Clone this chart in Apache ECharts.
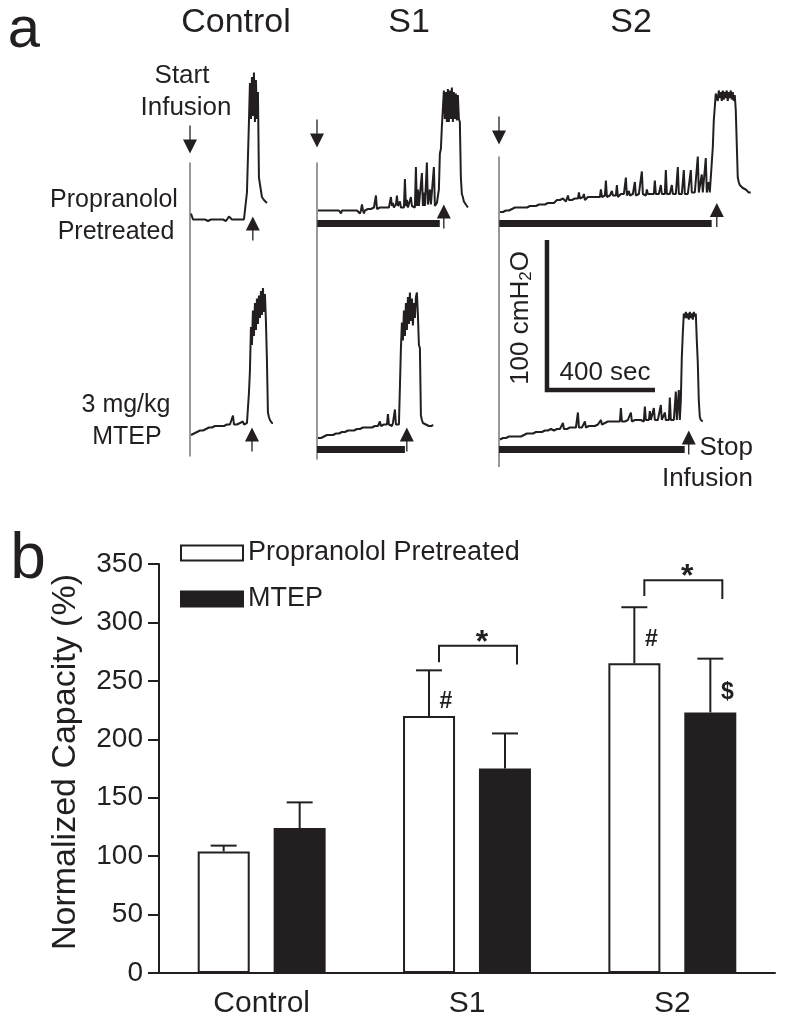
<!DOCTYPE html>
<html><head><meta charset="utf-8">
<script src="https://cdn.jsdelivr.net/npm/echarts@6/dist/echarts.min.js"></script>
<style>html,body{margin:0;padding:0;background:#fff}#c{width:785px;height:1027px}</style>
</head><body><div id="c"></div>
<script>
// ================= Panel b data =================
const categories = ['Control', 'S1', 'S2'];
const propranololMean = [104, 220, 265];
const propranololErr = [109, 259, 313];
const mtepMean = [124, 175, 223];
const mtepErr = [146, 205, 269];
const yMin = 0, yMax = 350, yInterval = 50;
// [category, group(0=propranolol,1=MTEP), value, symbol]
const markSymbols = [[1, 0, 232, '#'], [2, 0, 285, '#'], [2, 1, 240, '$']];
// [category, bracket level, left tick end, right tick end]
const sigBrackets = [[1, 280, 266, 264], [2, 336, 322.7, 320]];

// ================= Panel a data (pressure, cmH2O; one sample per 3.7 s) =================
const traceControlPro = [9,8,5,5,5,5,4,5,5,5, 5,5,5,5,5,5,5,4,5,5, 5,5,5,5,5,5,5,5,5,5, 5,5,5,5,5,4,5,5,7,8, 6,5,5,5,5,5,5,5,5,5, 5,5,5,5,5,6,23,24,70,96, 72,100,74,103,70,98,72,90,33,33, 32,20,19,18,18,17,16];
const traceS1Pro = [11,11,10,11,11,10,11,11,10,11, 11,10,11,11,10,11,11,10,11,11, 10,11,10,9,11,10,11,11,10,11, 11,10,11,11,10,11,11,10,11,11, 11,10,9,11,15,11,9,11,12,12, 12,12,12,12,12,12,13,13,21,12, 12,12,13,12,13,13,12,13,13,13, 13,13,14,20,14,16,13,14,15,21, 14,13,17,13,14,14,13,32,14,18, 13,14,14,20,14,13,14,13,40,14, 25,14,14,15,36,14,23,14,15,43, 15,14,25,15,15,16,40,14,15,16, 15,25,49,52,67,68,91,72,90,70, 92,70,91,72,93,70,90,72,89,71, 88,72,70,33,22,20,17,16,15,14, 13];
const traceS2Pro = [10,10,10,10,11,10,11,11,11,11, 12,12,12,12,13,13,13,13,13,13, 13,13,13,13,13,13,13,13,13,13, 14,14,14,14,14,15,14,15,15,15, 16,16,15,16,16,15,16,16,16,16, 17,16,17,17,16,17,17,18,17,17, 18,18,17,19,18,18,17,18,21,18, 19,18,18,19,18,19,19,20,19,23, 19,18,19,20,22,18,19,19,20,21, 19,20,20,19,20,21,19,20,20,19, 20,25,20,20,21,21,31,20,20,20, 21,20,24,21,20,20,21,28,20,21, 21,22,21,21,22,21,33,21,22,24, 21,22,21,22,22,30,21,22,22,22, 21,22,37,22,22,22,21,25,22,22, 23,22,22,21,22,31,22,22,22,22, 23,28,22,22,22,22,38,22,22,22, 22,23,28,22,22,23,22,22,40,22, 22,23,22,23,38,22,23,23,22,23, 22,38,23,23,22,23,23,22,47,23, 23,22,35,23,23,23,46,23,23,30, 23,23,24,53,71,72,89,90,84,91, 86,90,84,91,85,90,86,91,84,90, 86,91,85,90,84,88,78,78,33,30, 28,27,27,26,26,25,25,24,24,23, 23,23];
const traceControlMtep = [12,12,13,13,13,14,14,14,14,15, 15,15,15,16,16,16,16,16,17,17, 17,17,17,17,18,18,17,18,18,18, 18,18,19,18,19,19,19,19,19,19, 19,19,25,19,20,19,19,20,20,20, 21,20,21,19,18,18,20,21,40,55, 84,72,95,78,100,82,103,86,105,90, 108,92,110,94,106,88,62,27,24,22, 21,20,20];
const traceS1Mtep = [10,9,10,10,11,11,11,11,12,12, 12,12,12,12,13,12,13,13,13,13, 13,13,14,13,14,14,14,14,14,15, 15,14,15,15,16,15,15,16,15,16, 16,16,16,17,16,17,16,17,17,17, 18,17,18,17,17,18,18,18,19,18, 18,18,21,18,18,19,19,18,19,19, 26,19,18,19,18,20,19,29,19,18, 18,19,44,70,87,75,95,78,100,82, 104,86,107,88,103,85,100,90,104,107, 92,72,70,25,22,20,19,19,19,19, 19,18,19,19,18,19];
const traceS2Mtep = [9,9,9,10,9,10,10,10,10,11, 10,11,11,10,11,11,11,11,11,11, 11,11,12,12,12,13,12,13,13,13, 13,13,14,13,14,14,14,14,14,14, 14,15,14,15,15,15,15,15,15,15, 15,16,15,15,15,16,16,16,16,16, 16,16,16,20,16,17,16,16,17,17, 17,16,17,17,17,17,17,17,27,17, 17,17,17,17,17,21,17,17,18,18, 18,18,18,19,18,18,18,19,19,19, 19,22,19,20,20,20,20,20,21,20, 20,21,20,21,21,21,20,21,21,21, 21,30,21,21,21,21,22,21,22,21, 21,27,21,21,21,22,21,21,22,22, 21,22,21,22,21,31,22,22,21,22, 28,22,22,22,30,22,22,22,22,22, 22,32,22,22,22,27,22,22,22,22, 37,22,22,22,22,22,41,22,22,42, 22,35,64,80,93,90,94,90,93,89, 94,90,93,89,94,91,93,75,60,35, 24,22,21,21];
const traces = [traceControlPro, traceS1Pro, traceS2Pro, traceControlMtep, traceS1Mtep, traceS2Mtep];
const sampleSeconds = 3.7;
const infusionStop = [null, 451, 784, null, 322, 684];   // s
const stopArrowTime = [229, 466, 803, 226, 329, 699];   // s
const stopArrowTip = [7, 15, 16, 17, 17, 15];           // cmH2O
const scaleBar = {t: 174, p: 42, sec: 400, cm: 100};

// ================= layout / style =================
const FONT = "'Liberation Sans', Arial, sans-serif";
const INK = '#231f20';
const PX_PER_SEC = 0.27, PX_PER_CM = 1.5, P_MIN = -40, P_MAX = 115;
const colLeft = [191, 318, 500];
const colXMax = [320, 600, 1000];
const rowZero = [227, 453];
const colLineTop = [43, 43, 47];      // top-row pressure units
const colLineBottom = [-153, -155, -160];
const downArrowTip = [49, 53, 55];

const chart = echarts.init(document.getElementById('c'), null, {renderer: 'canvas'});

const grids = [{left: 159, top: 564, width: 616, height: 409}];
const xAxes = [{
  type: 'category', gridIndex: 0, data: categories,
  axisLine: {lineStyle: {color: INK, width: 2}},
  axisTick: {alignWithLabel: true, length: 12, lineStyle: {color: INK, width: 2}},
  axisLabel: {fontFamily: FONT, fontSize: 30, color: INK, margin: 16}
}];
const yAxes = [{
  type: 'value', gridIndex: 0, min: yMin, max: yMax, interval: yInterval,
  axisLine: {show: true, lineStyle: {color: INK, width: 2}},
  axisTick: {show: true, length: 11, lineStyle: {color: INK, width: 2}},
  axisLabel: {fontFamily: FONT, fontSize: 28, color: INK, margin: 16},
  splitLine: {show: false}
}];
const series = [
  {name: 'Propranolol Pretreated', type: 'bar', xAxisIndex: 0, yAxisIndex: 0, data: propranololMean,
   barWidth: 52, barGap: '46%', itemStyle: {color: '#fff', borderColor: INK, borderWidth: 2}},
  {name: 'MTEP', type: 'bar', xAxisIndex: 0, yAxisIndex: 0, data: mtepMean,
   barWidth: 52, barGap: '46%', itemStyle: {color: INK, borderColor: INK, borderWidth: 2}},
];
const BAR_OFF = 38;
const errData = [];
categories.forEach((c, i) => { errData.push([i, propranololMean[i], propranololErr[i], 0]); errData.push([i, mtepMean[i], mtepErr[i], 1]); });
series.push({
  type: 'custom', xAxisIndex: 0, yAxisIndex: 0, silent: true, z: 5, data: errData,
  renderItem: (params, api) => {
    const b = api.coord([api.value(0), api.value(1)]);
    const t = api.coord([api.value(0), api.value(2)]);
    const x = b[0] + (api.value(3) === 0 ? -BAR_OFF : BAR_OFF);
    return {type: 'group', children: [
      {type: 'line', shape: {x1: x, y1: b[1], x2: x, y2: t[1]}, style: {stroke: INK, lineWidth: 2}},
      {type: 'line', shape: {x1: x - 13, y1: t[1], x2: x + 13, y2: t[1]}, style: {stroke: INK, lineWidth: 2}}
    ]};
  }
});
series.push({
  type: 'custom', xAxisIndex: 0, yAxisIndex: 0, silent: true, z: 6, data: markSymbols,
  renderItem: (params, api) => {
    const p = api.coord([api.value(0), api.value(2)]);
    const x = p[0] + (api.value(1) === 0 ? -BAR_OFF : BAR_OFF) + 17;
    return {type: 'text', x: x, y: p[1], style: {text: markSymbols[params.dataIndex][3], font: 'bold 23px ' + FONT, fill: INK, align: 'center', verticalAlign: 'middle', textAlign: 'center', textVerticalAlign: 'middle'}};
  }
});
series.push({
  type: 'custom', xAxisIndex: 0, yAxisIndex: 0, silent: true, z: 6, data: sigBrackets,
  renderItem: (params, api) => {
    const c = api.coord([api.value(0), api.value(1)]);
    const l = api.coord([api.value(0), api.value(2)]);
    const r = api.coord([api.value(0), api.value(3)]);
    const xl = c[0] - BAR_OFF + 10, xr = c[0] + BAR_OFF + 12;
    return {type: 'group', children: [
      {type: 'polyline', shape: {points: [[xl, l[1]], [xl, c[1]], [xr, c[1]], [xr, r[1]]]}, style: {stroke: INK, lineWidth: 2, fill: null}},
      {type: 'text', x: (xl + xr) / 2 + 4, y: c[1] - 3, style: {text: '*', font: 'bold 32px ' + FONT, fill: INK, align: 'center', verticalAlign: 'middle', textAlign: 'center', textVerticalAlign: 'middle'}}
    ]};
  }
});

// ---- traces ----
function arrowUp(x, yTip, len) {
  return [
    {type: 'line', shape: {x1: x, y1: yTip + 8, x2: x, y2: yTip + len}, style: {stroke: INK, lineWidth: 1.3}},
    {type: 'polygon', shape: {points: [[x, yTip], [x - 7, yTip + 14], [x + 7, yTip + 14]]}, style: {fill: INK}}
  ];
}
function arrowDown(x, yTip, len) {
  return [
    {type: 'line', shape: {x1: x, y1: yTip - len, x2: x, y2: yTip - 8}, style: {stroke: INK, lineWidth: 1.3}},
    {type: 'polygon', shape: {points: [[x, yTip], [x - 7, yTip - 14], [x + 7, yTip - 14]]}, style: {fill: INK}}
  ];
}
traces.forEach((tr, i) => {
  const col = i % 3, row = Math.floor(i / 3);
  const gi = i + 1;
  grids.push({left: colLeft[col], top: rowZero[row] - P_MAX * PX_PER_CM,
              width: colXMax[col] * PX_PER_SEC, height: (P_MAX - P_MIN) * PX_PER_CM});
  xAxes.push({type: 'value', gridIndex: gi, min: 0, max: colXMax[col], show: false});
  yAxes.push({type: 'value', gridIndex: gi, min: P_MIN, max: P_MAX, show: false});
  series.push({type: 'line', xAxisIndex: gi, yAxisIndex: gi, clip: false, silent: true,
    showSymbol: false, symbol: 'none', animation: false,
    lineStyle: {color: INK, width: 2}, data: tr.map((p, k) => [k * sampleSeconds, p])});
  series.push({type: 'custom', xAxisIndex: gi, yAxisIndex: gi, silent: true, clip: false, data: [[0, 0]],
    renderItem: (params, api) => {
      const ch = [];
      const o = api.coord([0, 0]);
      if (infusionStop[i] != null) {
        const e = api.coord([infusionStop[i], 0]);
        ch.push({type: 'rect', shape: {x: o[0] - 1, y: o[1] - 7, width: e[0] - o[0] + 1, height: 7}, style: {fill: INK}});
      }
      const a = api.coord([stopArrowTime[i], stopArrowTip[i]]);
      ch.push(...arrowUp(a[0], a[1], 24));
      if (row === 0) {
        const t = api.coord([0, colLineTop[col]]), b = api.coord([0, colLineBottom[col]]);
        ch.push({type: 'line', shape: {x1: t[0] - 1, y1: t[1], x2: t[0] - 1, y2: b[1]}, style: {stroke: '#555', lineWidth: 1.2}});
        const d = api.coord([0, downArrowTip[col]]);
        ch.push(...arrowDown(d[0] - 1, d[1], 28));
      }
      if (i === 5) {
        const c0 = api.coord([scaleBar.t, scaleBar.p]);
        const cx = api.coord([scaleBar.t + scaleBar.sec, scaleBar.p]);
        const cy = api.coord([scaleBar.t, scaleBar.p + scaleBar.cm]);
        ch.push({type: 'polyline', shape: {points: [[cy[0], cy[1]], [c0[0], c0[1]], [cx[0], cx[1]]]}, style: {stroke: INK, lineWidth: 4.5, fill: null, lineJoin: 'miter'}});
      }
      return {type: 'group', children: ch};
    }});
});

function txt(t, x, y, size, opts) {
  opts = opts || {};
  return Object.assign({type: 'text', x: x, y: y, silent: true, style: {
    text: t, font: (opts.weight || 'normal') + ' ' + size + 'px ' + FONT, fill: INK,
    align: opts.align || 'center', verticalAlign: 'middle',
    textAlign: opts.align || 'center', textVerticalAlign: 'middle', rich: opts.rich}}, opts.extra || {});
}
const graphics = [
  txt('a', 24, 31, 58),
  txt('b', 28, 560, 64),
  txt('Control', 236, 23, 34),
  txt('S1', 409, 23, 34),
  txt('S2', 631, 23, 34),
  txt('Start', 182, 76, 26),
  txt('Infusion', 186, 108, 26),
  txt('Propranolol', 114, 200, 25),
  txt('Pretreated', 116, 232, 25),
  txt('3 mg/kg', 126, 405, 25),
  txt('MTEP', 127, 437, 25),
  txt('Stop', 753, 448, 26, {align: 'right'}),
  txt('Infusion', 753, 479, 26, {align: 'right'}),
  txt('400 sec', 605, 373, 26),
  txt('100 cmH{sub|2}O', 521, 318, 26, {rich: {sub: {fontSize: 17, fontFamily: FONT, fill: INK, verticalAlign: 'bottom', padding: [10, 0, 0, 0]}}, extra: {rotation: Math.PI / 2}}),
  txt('Normalized Capacity (%)', 66, 762, 34, {extra: {rotation: Math.PI / 2}})
];

chart.setOption({
  animation: false,
  backgroundColor: '#fff',
  grid: grids, xAxis: xAxes, yAxis: yAxes, series: series,
  legend: {orient: 'vertical', left: 175, top: 533, itemWidth: 62, itemHeight: 15, itemGap: 16, icon: 'rect',
    selectedMode: false, data: ['Propranolol Pretreated', 'MTEP'],
    textStyle: {fontFamily: FONT, fontSize: 27, color: INK, lineHeight: 30}},
  graphic: graphics
});
</script></body></html>
